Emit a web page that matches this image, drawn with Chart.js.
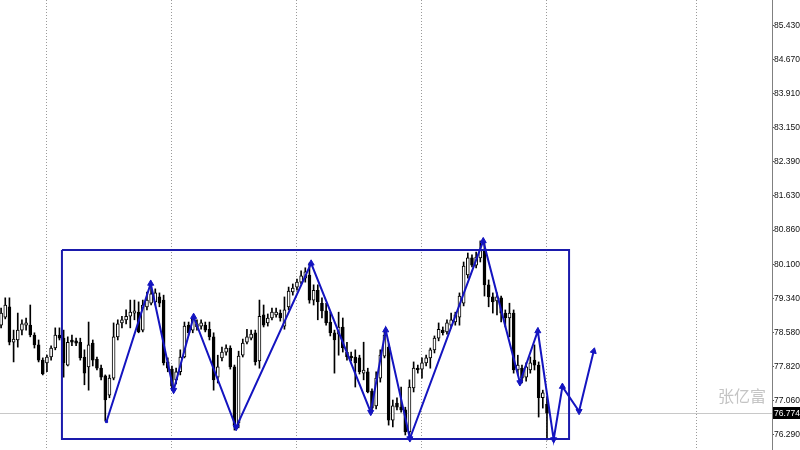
<!DOCTYPE html>
<html><head><meta charset="utf-8">
<script src="https://cdn.jsdelivr.net/npm/chart.js@4/dist/chart.umd.min.js"></script>
<style>html,body{margin:0;padding:0;background:#fff}#wrap{width:800px;height:450px}</style>
</head><body><div id="wrap"><canvas id="c" width="800" height="450"></canvas></div>
<script>
// ---- data (bar index 0 = leftmost candle) ----
const opens=[78.74,78.92,79.15,78.36,78.41,78.63,78.74,78.74,78.52,78.30,
77.96,77.90,78.03,78.23,78.52,78.45,77.85,78.41,78.39,78.36,
78.03,77.81,78.34,77.98,77.78,77.61,77.18,77.56,78.48,78.79,
78.86,78.94,79.01,79.03,78.63,79.15,79.23,79.26,79.37,79.30,
77.92,77.76,77.52,77.70,78.03,78.74,78.63,78.70,78.72,78.74,
78.65,78.48,77.58,78.01,78.14,78.23,77.81,76.56,78.07,78.36,
78.45,78.57,77.94,78.97,78.79,78.90,78.97,79.01,78.72,79.15,
79.48,79.59,79.70,79.79,79.86,79.30,79.52,79.23,79.06,78.81,
78.57,78.54,78.70,78.14,78.05,78.03,78.01,77.67,77.70,77.27,
76.94,77.56,78.05,78.25,76.62,77.00,76.91,76.85,76.36,77.34,
77.78,77.76,77.90,78.01,78.19,78.45,78.63,78.59,78.74,78.81,
78.92,79.23,79.86,80.24,80.08,80.24,80.42,79.64,79.37,79.28,
79.35,79.01,78.90,79.01,77.74,77.78,77.58,77.74,77.96,77.85,
77.12,76.98];
const highs=[79.12,79.35,79.35,78.63,79.01,78.86,78.90,79.19,78.57,78.41,
78.01,78.07,78.28,78.68,78.68,78.63,78.48,78.52,78.45,78.45,
78.19,78.81,78.41,78.03,77.85,77.63,77.63,78.79,78.86,78.94,
79.08,79.30,79.30,79.26,79.30,79.48,79.68,79.55,79.46,79.41,
78.01,77.83,77.78,78.19,78.81,78.81,78.94,78.86,78.86,78.81,
78.81,78.57,78.07,78.25,78.30,78.28,77.85,78.16,78.43,78.65,
78.63,78.63,79.30,79.19,78.99,79.12,79.12,79.08,79.37,79.59,
79.66,79.77,79.95,80.02,80.13,79.64,79.64,79.35,79.23,79.03,
78.63,79.03,78.90,78.36,78.14,78.19,78.07,78.36,77.78,77.32,
77.70,78.19,78.63,78.32,77.07,77.12,77.36,76.91,77.52,77.92,
77.85,78.01,78.07,78.23,78.50,78.79,78.70,78.86,79.01,79.03,
79.46,80.15,80.35,80.31,80.37,80.62,80.57,79.75,79.46,79.46,
79.39,79.08,79.23,79.08,78.07,77.85,77.90,78.03,78.30,77.92,
77.29,77.14];
const lows=[78.68,78.88,78.30,77.92,78.25,78.52,78.63,78.48,78.23,77.92,
77.63,77.70,77.96,78.19,78.41,77.58,77.83,78.28,78.28,77.96,
77.41,77.29,77.83,77.74,77.52,76.60,77.12,77.52,78.41,78.68,
78.77,78.68,78.86,78.57,78.59,79.08,79.19,79.19,79.15,77.85,
77.70,77.29,77.43,77.63,78.01,78.52,78.57,78.63,78.65,78.59,
78.41,77.29,77.45,77.94,78.07,77.76,76.40,76.45,78.03,78.32,
78.41,77.85,77.78,78.70,78.72,78.86,78.92,78.83,78.65,79.08,
79.41,79.52,79.66,79.70,79.23,79.19,78.86,78.90,78.74,78.50,
77.67,78.07,78.14,77.96,77.94,77.36,77.65,77.52,77.23,76.78,
76.87,77.47,78.01,76.51,76.47,76.85,76.80,76.29,76.22,77.25,
77.67,77.56,77.83,77.78,78.12,78.39,78.52,78.54,78.68,78.74,
78.74,79.17,79.79,80.04,80.02,80.15,79.39,79.15,79.01,78.97,
78.81,78.70,78.48,77.67,77.63,77.45,77.49,77.67,77.74,76.69,
76.89,76.18];
const closes=[79.01,79.19,78.36,78.43,78.63,78.77,78.79,78.52,78.30,77.96,
77.65,78.03,78.23,78.52,78.45,77.90,78.36,78.36,78.34,78.01,
77.67,78.30,77.96,77.78,77.58,77.07,77.56,78.48,78.77,78.86,
78.94,79.03,79.06,78.59,79.19,79.30,79.44,79.46,79.23,77.90,
77.78,77.38,77.70,78.03,78.72,78.57,78.90,78.77,78.79,78.63,
78.48,77.52,77.81,78.14,78.23,77.81,76.51,78.05,78.34,78.48,
78.54,77.92,78.94,78.74,78.90,79.03,79.03,78.90,79.08,79.50,
79.57,79.70,79.84,79.93,79.30,79.52,79.26,79.06,78.79,78.57,
78.41,78.70,78.23,78.03,78.01,77.90,77.70,77.74,77.25,76.89,
77.56,78.07,78.52,76.62,76.94,76.91,76.85,76.36,77.36,77.78,
77.74,77.90,78.01,78.19,78.45,78.65,78.57,78.79,78.86,78.97,
79.39,80.06,80.24,80.08,80.26,80.42,79.64,79.37,79.26,79.37,
79.01,78.90,79.01,77.74,77.85,77.56,77.81,77.90,77.85,77.12,
77.23,76.774];

// zigzag drawing (bar position, price)
const zigzagX=[25.3,35.9,41.4,46.2,56.4,74.4,88.7,92.3,98.1,115.7,124.5,128.8,132.6,134.7,138.7,142.2];
const zigzagY=[76.59,79.67,77.29,78.93,76.46,80.12,76.80,78.63,76.21,80.62,77.46,78.61,76.19,77.37,76.82,78.16];

// rectangle (bar positions, prices)
const rectBars=[14.6,136.3];
const rectPrices=[76.20,80.42];

// price axis tick labels
const tickLabels=['85.430','84.670','83.910','83.150','82.390','81.630','80.860','80.100','79.340','78.580','77.820','77.060','76.290'];
// vertical separators (bar positions)
const separators=[11,41,71,101,131,167];
const lastPrice=76.774;
const watermark='张亿富';

// ---- build datasets ----
const bodies=opens.map((o,i)=>({x:i,y:[o,closes[i]]}));
const wicks=lows.map((l,i)=>({x:i,y:[l,highs[i]]}));
const bodyColors=opens.map((o,i)=>closes[i]>=o?'#ffffff':'#000000');
const zz=zigzagX.map((x,i)=>({x:x,y:zigzagY[i]}));
const zzStyle=zigzagX.map((x,i)=>i===0?'rect':'triangle');
const zzRadius=zigzagX.map((x,i)=>i===0?1.5:3.5);
const zzRot=zigzagX.map((x,i)=>{
  if(i===0) return 0;
  if(i===zigzagX.length-1) return 14;
  return zigzagY[i]>zigzagY[i-1]?0:180;
});
const rectPts=[
  {x:rectBars[0],y:rectPrices[1]},{x:rectBars[1],y:rectPrices[1]},
  {x:rectBars[1],y:rectPrices[0]},{x:rectBars[0],y:rectPrices[0]},
  {x:rectBars[0],y:rectPrices[1]}];

const overlay={
  id:'overlay',
  beforeDatasetsDraw(chart){
    const {ctx,chartArea:a,scales:{y}}=chart;
    ctx.save();
    const py=Math.round(y.getPixelForValue(lastPrice))+0.5;
    ctx.strokeStyle='#c8c8c8';ctx.lineWidth=1;
    ctx.beginPath();ctx.moveTo(a.left,py);ctx.lineTo(a.right,py);ctx.stroke();
    ctx.fillStyle='#c4c4c4';
    ctx.font='16px "Noto Sans CJK SC"';
    ctx.textAlign='right';ctx.textBaseline='middle';
    ctx.fillText(watermark,766,396);
    ctx.restore();
  },
  afterDraw(chart){
    const {ctx,chartArea:a,scales:{y}}=chart;
    const py=Math.round(y.getPixelForValue(lastPrice));
    ctx.save();
    ctx.fillStyle='#000';
    ctx.fillRect(a.right+1,py-6,800-a.right-1,12);
    ctx.fillStyle='#fff';
    ctx.font='8.5px "Liberation Sans"';
    ctx.textAlign='left';ctx.textBaseline='middle';
    ctx.fillText(lastPrice.toFixed(3),a.right+2,py+0.5);
    ctx.restore();
  }
};

new Chart(document.getElementById('c'),{
  data:{datasets:[
    {type:'line',data:zz,borderColor:'#1414c0',borderWidth:2,tension:0,
     pointStyle:zzStyle,pointRadius:zzRadius,pointRotation:zzRot,
     pointBackgroundColor:'#1414c0',pointBorderColor:'#1414c0',pointBorderWidth:1,order:0},
    {type:'line',data:rectPts,borderColor:'#1a1aac',borderWidth:2,tension:0,pointRadius:0,order:0},
    {type:'bar',data:bodies,backgroundColor:bodyColors,borderColor:'#000',borderWidth:1,
     borderSkipped:false,barThickness:3,grouped:false,minBarLength:1,order:1},
    {type:'bar',data:wicks,backgroundColor:'#000',borderWidth:0,barThickness:1,grouped:false,order:2}
  ]},
  options:{
    responsive:false,animation:false,
    layout:{padding:0,autoPadding:false},
    plugins:{legend:{display:false},tooltip:{enabled:false}},
    scales:{
      x:{type:'linear',min:-0.264,max:185,offset:false,
        afterBuildTicks:s=>{s.ticks=separators.map(v=>({value:v}));},
        afterFit:s=>{s.height=0;s.paddingLeft=0;s.paddingRight=0;},
        ticks:{display:false},
        grid:{color:'#9a9a9a',drawTicks:false,lineWidth:1,offset:false},
        border:{display:false,dash:[1,2]}},
      y:{type:'linear',position:'right',min:75.955,max:85.995,
        afterBuildTicks:s=>{s.ticks=tickLabels.map(t=>({value:parseFloat(t)}));},
        afterFit:s=>{s.width=28;s.paddingTop=0;s.paddingBottom=0;},
        ticks:{autoSkip:false,padding:0,color:'#111',
          font:{family:'"Liberation Sans"',size:8.5},
          callback:v=>Number(v).toFixed(3)},
        grid:{drawOnChartArea:false,drawTicks:true,tickLength:2,color:'#555'},
        border:{display:true,color:'#808080'}}
    }
  },
  plugins:[overlay]
});
</script></body></html>
